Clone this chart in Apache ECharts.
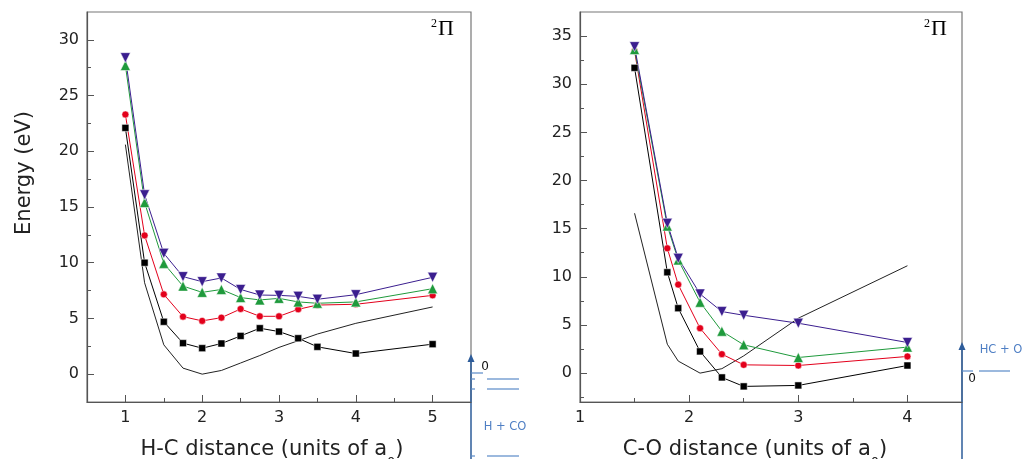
<!DOCTYPE html>
<html>
<head>
<meta charset="utf-8">
<script src="https://cdn.jsdelivr.net/npm/echarts@6/dist/echarts.min.js"></script>
<style>
html,body{margin:0;padding:0;background:#fff;}
#chart{width:1026px;height:459px;}
</style>
</head>
<body>
<div id="chart"></div>
<script>
// ---- Left panel: H-C distance ----
var hcX = [1, 1.25, 1.5, 1.75, 2, 2.25, 2.5, 2.75, 3, 3.25, 3.5, 4, 5];
var hcSquare = [22.1, 10.0, 4.7, 2.78, 2.33, 2.75, 3.43, 4.12, 3.82, 3.22, 2.45, 1.85, 2.69];
var hcCircle = [23.3, 12.45, 7.16, 5.16, 4.78, 5.07, 5.85, 5.19, 5.19, 5.82, 6.2, 6.27, 7.07];
var hcUp = [27.7, 15.4, 9.94, 7.9, 7.34, 7.6, 6.87, 6.66, 6.8, 6.48, 6.36, 6.48, 7.67];
var hcDown = [28.4, 16.1, 10.84, 8.75, 8.3, 8.63, 7.6, 7.1, 7.07, 6.98, 6.72, 7.13, 8.69];
var hcLine = [20.6, 8.2, 2.63, 0.54, 0, 0.33, 1.0, 1.67, 2.4, 3.0, 3.6, 4.56, 6.03];
var hcXTicks = [1, 2, 3, 4, 5];
var hcXMinor = [1.5, 2.5, 3.5, 4.5];
var hcYTicks = [0, 5, 10, 15, 20, 25, 30];
var hcYMinor = [-2.5, 2.5, 7.5, 12.5, 17.5, 22.5, 27.5];

// ---- Right panel: C-O distance ----
var coX = [1.5, 1.8, 1.9, 2.1, 2.3, 2.5, 3, 4];
var coSquare = [31.7, 10.47, 6.74, 2.25, -0.45, -1.38, -1.28, 0.79];
var coCircle = [33.45, 12.96, 9.19, 4.66, 1.97, 0.86, 0.79, 1.73];
var coUp = [33.6, 15.27, 11.75, 7.36, 4.35, 2.94, 1.62, 2.7];
var coDown = [33.9, 15.55, 11.92, 8.22, 6.39, 6.01, 5.18, 3.18];
var coLine = [16.6, 3.0, 1.25, 0, 0.46, 1.79, 5.7, 11.15];
var coXTicks = [1, 2, 3, 4];
var coXMinor = [1.5, 2.5, 3.5];
var coYTicks = [0, 5, 10, 15, 20, 25, 30, 35];
var coYMinor = [-2.5, 2.5, 7.5, 12.5, 17.5, 22.5, 27.5, 32.5];

function pairs(xs, ys) { return xs.map(function (x, i) { return [x, ys[i]]; }); }

var FONT = '"DejaVu Sans", "Liberation Sans", Arial, sans-serif';
var AXC = '#555';

function mainX(grid, min, max, ticks, name, pad) {
  return {
    type: 'value', gridIndex: grid, min: min, max: max, position: 'bottom',
    axisLine: { show: true, onZero: false, lineStyle: { color: AXC, width: 1.2 } },
    axisTick: { show: true, inside: true, length: 7, customValues: ticks, lineStyle: { color: AXC } },
    axisLabel: { customValues: ticks, margin: 8, fontFamily: FONT, fontSize: 16, color: '#222' },
    splitLine: { show: false },
    name: name, nameLocation: 'middle', nameGap: 28,
    nameTextStyle: {
      fontFamily: FONT, fontSize: 21, color: '#222', padding: pad,
      rich: { sub: { fontFamily: FONT, fontSize: 13, color: '#222', padding: [26, 0, 0, 0] } }
    }
  };
}
function minorX(grid, min, max, ticks) {
  return {
    type: 'value', gridIndex: grid, min: min, max: max, position: 'bottom',
    axisLine: { show: false, onZero: false },
    axisTick: { show: true, inside: true, length: 4, customValues: ticks, lineStyle: { color: AXC } },
    axisLabel: { show: false }, splitLine: { show: false }
  };
}
function mainY(grid, min, max, ticks, name) {
  var o = {
    type: 'value', gridIndex: grid, min: min, max: max, position: 'left',
    axisLine: { show: true, onZero: false, lineStyle: { color: AXC, width: 1.2 } },
    axisTick: { show: true, inside: true, length: 7, customValues: ticks, lineStyle: { color: AXC } },
    axisLabel: { customValues: ticks, margin: 8, fontFamily: FONT, fontSize: 16, color: '#222' },
    splitLine: { show: false }
  };
  if (name) {
    o.name = name; o.nameLocation = 'middle'; o.nameGap = 52;
    o.nameTextStyle = { fontFamily: FONT, fontSize: 21, color: '#222', padding: [0, 0, 0, 68] };
  }
  return o;
}
function minorY(grid, min, max, ticks) {
  return {
    type: 'value', gridIndex: grid, min: min, max: max, position: 'left',
    axisLine: { show: false, onZero: false },
    axisTick: { show: true, inside: true, length: 4, customValues: ticks, lineStyle: { color: AXC } },
    axisLabel: { show: false }, splitLine: { show: false }
  };
}

var C_BLACK = '#000000', C_RED = '#e3001b', C_GREEN = '#1f9a3c', C_PURPLE = '#3b1e8f';

function s(xi, yi, data, color, symbol, size) {
  return {
    type: 'line', xAxisIndex: xi, yAxisIndex: yi, data: data,
    symbol: symbol, symbolSize: size, showSymbol: symbol !== 'none',
    lineStyle: { color: color, width: 1 },
    itemStyle: { color: color, borderColor: '#fff', borderWidth: 0.5 },
    animation: false, silent: true, z: 3
  };
}

var BLUE = '#2d5c9a', LBLUE = '#5b8bc9';
function gl(x1, y1, x2, y2, c, w) {
  return { type: 'line', shape: { x1: x1, y1: y1, x2: x2, y2: y2 }, style: { stroke: c, lineWidth: w } };
}
var PI_RICH = {
  a: { fontFamily: '"Liberation Serif", serif', fontSize: 12, color: '#111', padding: [0, 1, 10, 0] },
  b: { fontFamily: '"Liberation Serif", serif', fontSize: 22, color: '#111' }
};

var option = {
  backgroundColor: '#fff',
  animation: false,
  grid: [
    { left: 87, top: 12, width: 384, height: 390, outerBoundsMode: 'none', containLabel: false, show: true, borderColor: '#777', borderWidth: 1.2, backgroundColor: 'transparent' },
    { left: 580, top: 12, width: 382, height: 390, outerBoundsMode: 'none', containLabel: false, show: true, borderColor: '#777', borderWidth: 1.2, backgroundColor: 'transparent' }
  ],
  xAxis: [
    mainX(0, 0.5, 5.5, hcXTicks, 'H-C distance (units of a{sub|0})', [0, 14, 0, 0]),
    minorX(0, 0.5, 5.5, hcXMinor),
    mainX(1, 1, 4.5, coXTicks, 'C-O distance (units of a{sub|0})', [0, 32, 0, 0]),
    minorX(1, 1, 4.5, coXMinor)
  ],
  yAxis: [
    mainY(0, -2.5, 32.5, hcYTicks, 'Energy (eV)'),
    minorY(0, -2.5, 32.5, hcYMinor),
    mainY(1, -3, 37.5, coYTicks, null),
    minorY(1, -3, 37.5, coYMinor)
  ],
  series: [
    s(0, 0, pairs(hcX, hcLine), '#222', 'none', 0),
    s(0, 0, pairs(hcX, hcSquare), C_BLACK, 'rect', 7),
    s(0, 0, pairs(hcX, hcCircle), C_RED, 'circle', 7),
    s(0, 0, pairs(hcX, hcUp), C_GREEN, 'triangle', 10),
    s(0, 0, pairs(hcX, hcDown), C_PURPLE, 'path://M0,0 L10,0 L5,9 Z', 10),
    s(2, 2, pairs(coX, coLine), '#222', 'none', 0),
    s(2, 2, pairs(coX, coSquare), C_BLACK, 'rect', 7),
    s(2, 2, pairs(coX, coCircle), C_RED, 'circle', 7),
    s(2, 2, pairs(coX, coUp), C_GREEN, 'triangle', 10),
    s(2, 2, pairs(coX, coDown), C_PURPLE, 'path://M0,0 L10,0 L5,9 Z', 10)
  ],
  graphic: [
    { type: 'text', x: 431, y: 40, style: { text: '{a|2}{b|Π}', verticalAlign: 'bottom', rich: PI_RICH } },
    { type: 'text', x: 924, y: 40, style: { text: '{a|2}{b|Π}', verticalAlign: 'bottom', rich: PI_RICH } },
    // left annotation (H + CO)
    gl(471, 360, 471, 459, BLUE, 1.5),
    { type: 'polygon', shape: { points: [[471, 354], [467.5, 362], [474.5, 362]] }, style: { fill: BLUE } },
    gl(471, 373, 483, 373, LBLUE, 1.2),
    gl(471, 379, 475, 379, LBLUE, 1.2),
    gl(471, 389, 475, 389, LBLUE, 1.2),
    gl(471, 456, 475, 456, LBLUE, 1.2),
    gl(487, 379, 519, 379, LBLUE, 1.2),
    gl(487, 389, 519, 389, LBLUE, 1.2),
    gl(487, 456, 519, 456, LBLUE, 1.2),
    { type: 'text', x: 485, y: 367, style: { text: '0', fontFamily: FONT, fontSize: 12, fill: '#111', align: 'center', verticalAlign: 'middle' } },
    { type: 'text', x: 505, y: 427, style: { text: 'H + CO', fontFamily: FONT, fontSize: 11.5, fill: '#4f7fc4', align: 'center', verticalAlign: 'middle' } },
    // right annotation (HC + O)
    gl(962, 348, 962, 459, BLUE, 1.5),
    { type: 'polygon', shape: { points: [[962, 342], [958.5, 350], [965.5, 350]] }, style: { fill: BLUE } },
    gl(962, 371, 973, 371, LBLUE, 1.2),
    gl(979, 371, 1010, 371, LBLUE, 1.2),
    { type: 'text', x: 972, y: 379, style: { text: '0', fontFamily: FONT, fontSize: 12, fill: '#111', align: 'center', verticalAlign: 'middle' } },
    { type: 'text', x: 1001, y: 350, style: { text: 'HC + O', fontFamily: FONT, fontSize: 11.5, fill: '#4f7fc4', align: 'center', verticalAlign: 'middle' } }
  ]
};

var chart = echarts.init(document.getElementById('chart'), null, { renderer: 'canvas' });
chart.setOption(option);
</script>
</body>
</html>
